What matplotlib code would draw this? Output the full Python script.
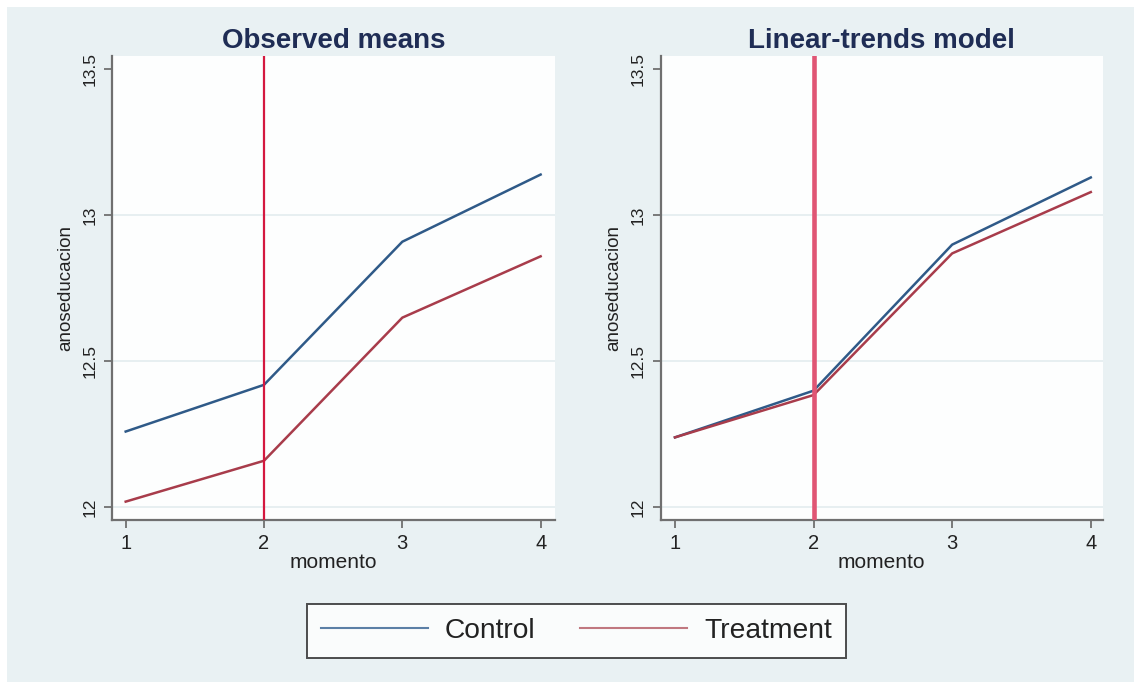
import matplotlib.pyplot as plt
from matplotlib.lines import Line2D
from matplotlib.patches import Rectangle

plt.rcParams['font.family'] = ['Liberation Sans', 'DejaVu Sans']

# data
momento = [1, 2, 3, 4]
obs_control = [12.26, 12.42, 12.91, 13.14]
obs_treatment = [12.02, 12.16, 12.65, 12.86]
lin_control = [12.24, 12.40, 12.90, 13.13]
lin_treatment = [12.24, 12.385, 12.87, 13.08]
yticks = [12, 12.5, 13, 13.5]
ytick_labels = ['12', '12.5', '13', '13.5']
grid_levels = [12, 12.5, 13]
treatment_start = 2
titles = ['Observed means', 'Linear-trends model']

bg = '#e9f1f3'
c_control = '#2f5a88'
c_treat = '#a83c4b'
title_col = '#1f2d55'
spine_col = '#707070'
text_col = '#222222'

fig = plt.figure(figsize=(11.34, 6.82), dpi=100)
fig.patch.set_facecolor('white')
fig.patches.append(Rectangle((7 / 1134, 0), 1, 1 - 7 / 682, transform=fig.transFigure,
                             facecolor=bg, edgecolor='none', zorder=-10))

ax1 = fig.add_axes([0.0992, 0.2375, 0.3898, 0.6804])
ax2 = fig.add_axes([0.5826, 0.2375, 0.3898, 0.6804])


def style_panel(ax, xlim, title, ctrl, treat, vcol, vlw):
    ax.set_facecolor('#fdfefe')
    for y in grid_levels:
        ax.axhline(y, color='#e3edef', lw=1.2, zorder=0)
    ax.plot(momento, ctrl, color=c_control, lw=1.8, zorder=3)
    ax.plot(momento, treat, color=c_treat, lw=1.8, zorder=3)
    ax.axvline(treatment_start, color=vcol, lw=vlw, zorder=4)
    ax.set_xlim(*xlim)
    ax.set_ylim(11.957, 13.546)
    ax.set_xticks(momento)
    ax.set_xticklabels([str(m) for m in momento], fontsize=14.5)
    ax.set_yticks(yticks)
    ax.set_yticklabels(ytick_labels, fontsize=12.5, rotation=90, va='center')
    for s in ['top', 'right']:
        ax.spines[s].set_visible(False)
    for s in ['left', 'bottom']:
        ax.spines[s].set_color(spine_col)
        ax.spines[s].set_linewidth(1.6)
    ax.tick_params(direction='out', length=6, width=1.3, color=spine_col,
                   labelcolor=text_col)
    ax.tick_params(axis='x', pad=4)
    ax.tick_params(axis='y', pad=5)
    ax.set_xlabel('momento', fontsize=15, color=text_col, labelpad=0)
    ax.set_ylabel('anoseducacion', fontsize=13.5, color=text_col, labelpad=6)
    ax.set_title(title, fontsize=20, fontweight='bold', color=title_col, pad=6)


style_panel(ax1, (0.9046, 4.1005), titles[0], obs_control, obs_treatment, '#d4183f', 1.6)
style_panel(ax2, (0.897, 4.086), titles[1], lin_control, lin_treatment, '#e05574', 3.3)

handles = [Line2D([], [], color='#5b7fa6', lw=1.5),
           Line2D([], [], color='#c07880', lw=1.5)]
leg = fig.legend(handles, ['Control', 'Treatment'], loc='center',
                 bbox_to_anchor=(0.5082, 0.0748), ncol=2, fontsize=20.3,
                 frameon=True, fancybox=False, edgecolor=text_col,
                 handlelength=3.8, handletextpad=0.6, columnspacing=1.57,
                 borderpad=0.5)
leg.get_frame().set_linewidth(1.4)
leg.get_frame().set_facecolor('white')
for t in leg.get_texts():
    t.set_color(text_col)

fig.savefig('out.png', dpi=100, facecolor=fig.get_facecolor())
